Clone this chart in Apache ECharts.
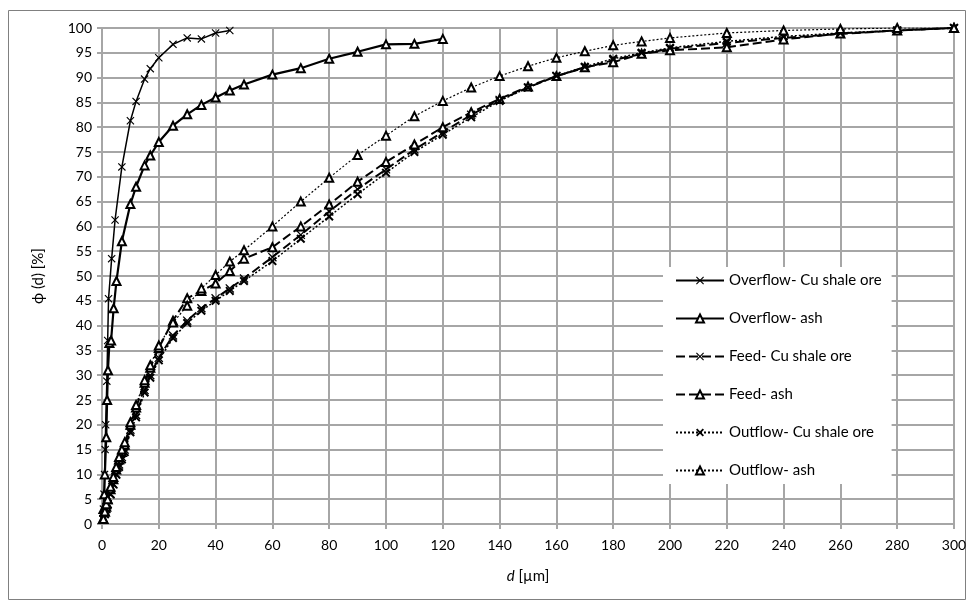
<!DOCTYPE html>
<html lang="en">
<head>
    <meta charset="UTF-8">
    <title>Particle size distribution</title>
    <script src="https://cdn.jsdelivr.net/npm/echarts@6/dist/echarts.min.js"></script>
</head>
<body style="margin:0">
<div id="chart" style="width:974px; height:609px"></div>
<script type="text/javascript">
    // d [um] and phi(d) [%] for each series
    var overflowCuX = [0.3, 0.5, 0.7, 0.9, 1.1, 1.3, 1.7, 2, 2.3, 3.4, 4.6, 7, 10, 12, 15, 17, 20, 25, 30, 35, 40, 45];
    var overflowCuY = [1, 3, 6, 10, 15, 20, 28.8, 37, 45.4, 53.5, 61.3, 72, 81.3, 85.2, 89.7, 91.8, 94, 96.7, 98, 97.8, 99, 99.5];

    var overflowAshX = [0.3, 0.5, 0.8, 1, 1.5, 1.8, 2.1, 2.6, 3.2, 4.1, 5.1, 7, 10, 12, 15, 17, 20, 25, 30, 35, 40, 45, 50, 60, 70, 80, 90, 100, 110, 120];
    var overflowAshY = [1, 3, 6, 10, 17.5, 25, 31, 36.5, 37, 43.5, 49, 57, 64.5, 68, 72.3, 74.3, 77, 80.3, 82.6, 84.5, 86, 87.4, 88.6, 90.6, 91.9, 93.8, 95.2, 96.7, 96.8, 97.8];

    var sieveX = [0.5, 1, 1.5, 2, 3, 4, 5, 6, 7, 8, 10, 12, 15, 17, 20, 25, 30, 35, 40, 45, 50, 60, 70, 80, 90, 100, 110, 120, 130, 140, 150, 160, 170, 180, 190, 200, 220, 240, 260, 280, 300];
    var feedCuY = [1, 2, 3, 4, 6, 8, 10, 12, 13.5, 15, 19, 22, 27, 30, 33.5, 38, 41, 43.5, 45.5, 47.5, 49.5, 53.8, 58.3, 63, 67.5, 71.5, 75.5, 79, 82.5, 85.5, 88, 90.3, 92, 93.5, 94.8, 95.8, 97, 98, 98.8, 99.5, 100];
    var feedAshY = [1, 2.5, 3.5, 5, 7, 9, 11, 13, 14.5, 16, 20, 23.5, 28.5, 31.5, 35.5, 41, 45.5, 47, 48.5, 51, 53.5, 55.8, 60, 64.4, 69, 73, 76.5, 80, 83, 85.7, 88.2, 90.3, 92.1, 93.1, 94.8, 95.5, 96.1, 97.7, 98.9, 99.5, 100];
    var outflowCuY = [1, 2, 3, 4, 6, 8, 10, 11.5, 13, 14.5, 18.5, 21.5, 26.5, 29.5, 33, 37.5, 40.5, 43, 45, 47, 49, 53, 57.5, 62, 66.5, 70.8, 75, 78.5, 82, 85.3, 88, 90.3, 92.2, 93.8, 95, 96, 97.3, 98.3, 99, 99.5, 100];
    var outflowAshY = [1, 2.5, 4, 5, 7.5, 9.5, 11.5, 13.5, 15, 16.5, 20.5, 24, 29, 32, 36, 40.6, 44, 47.5, 50.2, 52.9, 55.2, 60, 65, 69.8, 74.4, 78.3, 82.2, 85.3, 88, 90.3, 92.3, 94, 95.3, 96.5, 97.3, 98, 99, 99.5, 99.8, 100, 100];

    var seriesNames = ['Overflow- Cu shale ore', 'Overflow- ash', 'Feed- Cu shale ore', 'Feed- ash', 'Outflow- Cu shale ore', 'Outflow- ash'];

    var thinX = 'path://M0,1L1,0L5,4L9,0L10,1L6,5L10,9L9,10L5,6L1,10L0,9L4,5Z';
    var boldX = 'path://M0,1.6L1.6,0L5,3.4L8.4,0L10,1.6L6.6,5L10,8.4L8.4,10L5,6.6L1.6,10L0,8.4L3.4,5Z';

    function pairs(xs, ys) {
        var out = [];
        for (var i = 0; i < xs.length && i < ys.length; i++) out.push([xs[i], ys[i]]);
        return out;
    }

    var myChart = echarts.init(document.getElementById('chart'));
    var gridColor = '#a6a6a6';
    var font = 'Lato, "Open Sans", sans-serif';

    function line(name, data, symbol, size, type, width) {
        return {
            name: name,
            type: 'line',
            data: data,
            symbol: symbol,
            symbolSize: size,
            showAllSymbol: true,
            animation: false,
            lineStyle: {color: '#000', width: width, type: type},
            itemStyle: {color: '#000', borderColor: '#000', borderWidth: symbol === 'emptyTriangle' ? 1.6 : 0}
        };
    }

    myChart.setOption({
        backgroundColor: '#fff',
        animation: false,
        graphic: [{
            type: 'rect',
            shape: {x: 8.5, y: 10.5, width: 957, height: 589},
            style: {fill: 'none', stroke: '#808080', lineWidth: 1},
            silent: true
        }],
        grid: {left: 102, right: 20, top: 28, bottom: 85},
        legend: {
            orient: 'vertical',
            left: 663,
            top: 267,
            itemWidth: 48,
            itemHeight: 10,
            itemGap: 23,
            padding: [6, 10, 6, 12],
            backgroundColor: '#fff',
            textStyle: {fontFamily: font, fontSize: 15, color: '#000'},
            data: seriesNames
        },
        xAxis: {
            type: 'value',
            min: 0, max: 300, interval: 20,
            name: '{i|d} [µm]',
            nameLocation: 'middle',
            nameGap: 45,
            nameTextStyle: {
                fontFamily: font, fontSize: 15, color: '#000',
                rich: {i: {fontStyle: 'italic', fontFamily: font, fontSize: 15, color: '#000'}}
            },
            axisLine: {lineStyle: {color: gridColor, width: 2}},
            axisTick: {show: true, length: 5, lineStyle: {color: gridColor, width: 2}},
            axisLabel: {fontFamily: font, fontSize: 14, color: '#000', margin: 14},
            splitLine: {lineStyle: {color: gridColor, width: 2}}
        },
        yAxis: {
            type: 'value',
            min: 0, max: 100, interval: 5,
            name: 'ϕ (d) [%]',
            nameLocation: 'middle',
            nameGap: 56,
            nameTextStyle: {fontFamily: font, fontSize: 15, color: '#000'},
            axisLine: {show: true, lineStyle: {color: gridColor, width: 2}},
            axisTick: {show: true, length: 5, lineStyle: {color: gridColor, width: 2}},
            axisLabel: {fontFamily: font, fontSize: 14, color: '#000', margin: 10},
            splitLine: {lineStyle: {color: gridColor, width: 2}}
        },
        series: [
            line(seriesNames[0], pairs(overflowCuX, overflowCuY), thinX, 8, 'solid', 1.5),
            line(seriesNames[1], pairs(overflowAshX, overflowAshY), 'emptyTriangle', 8, 'solid', 2.2),
            line(seriesNames[2], pairs(sieveX, feedCuY), thinX, 9, [9, 4], 2),
            line(seriesNames[3], pairs(sieveX, feedAshY), 'emptyTriangle', 8, [9, 4], 2),
            line(seriesNames[4], pairs(sieveX, outflowCuY), boldX, 9, [2, 2], 1.5),
            line(seriesNames[5], pairs(sieveX, outflowAshY), 'emptyTriangle', 8, [2, 2], 1.2)
        ]
    });
</script>
</body>
</html>
